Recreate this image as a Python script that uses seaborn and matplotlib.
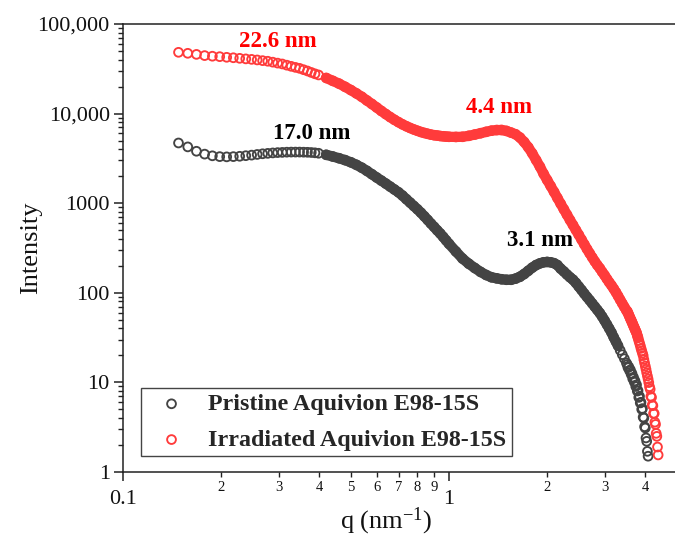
import matplotlib
matplotlib.use("Agg")
import matplotlib.pyplot as plt
import numpy as np
import pandas as pd
import seaborn as sns
from matplotlib.ticker import FixedLocator, FixedFormatter, NullFormatter, LogLocator

# ---------------- data ----------------
q_low = [0.148, 0.158, 0.168, 0.178, 0.188, 0.198, 0.208, 0.218, 0.228, 0.238,
         0.248, 0.258, 0.268, 0.278, 0.288, 0.298, 0.308, 0.318, 0.328, 0.338,
         0.348, 0.358, 0.368, 0.378, 0.388, 0.398]
q_mid = [0.42, 0.44, 0.46, 0.48, 0.50, 0.52, 0.54, 0.56, 0.58, 0.60,
         0.62, 0.64, 0.66, 0.68, 0.70, 0.72, 0.74, 0.76, 0.78, 0.80,
         0.82, 0.84, 0.86, 0.88, 0.90, 0.92, 0.94, 0.96, 0.98, 1.00]
q_high = [1.05, 1.10, 1.15, 1.20, 1.25, 1.30, 1.35, 1.40, 1.45, 1.50,
          1.55, 1.60, 1.65, 1.70, 1.75, 1.80, 1.85, 1.90, 1.95, 2.00,
          2.05, 2.10, 2.15, 2.20, 2.25, 2.30, 2.35, 2.40, 2.45, 2.50,
          2.55, 2.60, 2.65, 2.70, 2.75, 2.80, 2.85, 2.90, 2.95, 3.00,
          3.05, 3.10, 3.15, 3.20, 3.25, 3.30, 3.35, 3.40, 3.45, 3.50]
q_tail_pristine = [3.52, 3.54, 3.56, 3.58, 3.60, 3.62, 3.64, 3.66, 3.68, 3.70,
                   3.72, 3.74, 3.76, 3.78, 3.80, 3.82, 3.84, 3.86, 3.88, 3.90,
                   3.92, 3.94, 3.96, 3.98, 4.00, 4.02, 4.04, 4.06, 4.08]
q_tail_irradiated = [3.52, 3.54, 3.56, 3.58, 3.60, 3.62, 3.64, 3.66, 3.68, 3.70,
                     3.72, 3.74, 3.76, 3.78, 3.80, 3.82, 3.84, 3.86, 3.88, 3.90,
                     3.92, 3.94, 3.96, 3.98, 4.00, 4.02, 4.04, 4.06, 4.08, 4.10,
                     4.12, 4.14, 4.16, 4.18, 4.20, 4.22, 4.24, 4.26, 4.28, 4.30,
                     4.32, 4.34, 4.36, 4.38]

i_pristine_low = [4700, 4250, 3800, 3530, 3380, 3310, 3290, 3310, 3340, 3390,
                  3440, 3500, 3560, 3600, 3640, 3670, 3690, 3710, 3720, 3720,
                  3720, 3710, 3700, 3680, 3650, 3610]
i_pristine_mid = [3469, 3320, 3175, 3025, 2860, 2680, 2490, 2295, 2105, 1935,
                  1787, 1655, 1532, 1422, 1323, 1216, 1108, 1015, 930, 855,
                  783, 714, 651, 593, 544, 498, 459, 420, 384, 352]
i_pristine_high = [289, 241, 211, 189, 171, 158, 149, 145, 141.6, 139.8,
                   139.8, 144, 151, 162, 176, 191, 204, 213, 219, 221,
                   219, 214, 204, 186, 173, 160, 149, 140, 129, 117.5,
                   107.4, 97.9, 89.8, 82.7, 76.0, 70.0, 64.5, 59.5, 54.2, 49.1,
                   44.3, 39.9, 36.0, 31.9, 28.6, 25.6, 22.8, 20.4, 18.4, 16.5]
i_pristine_tail = [15.8, 14.6, 14.9, 13.5, 13.8, 12.3, 12.6, 11.0, 11.4, 10.1,
                   10.4, 9.0, 9.4, 8.0, 8.1, 6.8, 7.0, 5.9, 6.0, 5.0,
                   5.1, 4.1, 4.0, 3.2, 3.1, 2.4, 2.2, 1.7, 1.5]

i_irradiated_low = [48300, 47100, 45800, 44400, 43700, 43200, 42500, 42000, 41400, 40800,
                    40300, 39700, 39000, 38400, 37500, 36600, 35800, 34700, 33700, 32800,
                    32000, 30900, 29900, 28800, 27800, 27000]
i_irradiated_mid = [25000, 23200, 21600, 19900, 18300, 16800, 15400, 14000, 12800, 11700,
                    10700, 9870, 9140, 8530, 8020, 7580, 7220, 6910, 6650, 6430,
                    6230, 6080, 5950, 5830, 5740, 5690, 5620, 5580, 5540, 5510]
i_irradiated_high = [5490, 5510, 5650, 5840, 6040, 6260, 6450, 6550, 6560, 6410,
                     6140, 5880, 5410, 4820, 4210, 3600, 3030, 2560, 2130, 1815,
                     1555, 1335, 1145, 987, 855, 744, 649, 571, 502, 444,
                     392, 347, 308, 276, 248, 224, 204, 188, 171, 157,
                     143, 131, 121, 111, 101.5, 92.1, 83.5, 76.0, 69.4, 63.5]
i_irradiated_tail = [62.3, 59.5, 56.7, 54.0, 51.5, 49.4, 47.1, 44.9, 42.8, 41.0,
                     39.1, 37.3, 35.8, 33.5, 31.5, 29.3, 27.5, 25.8, 24.0, 22.5,
                     21.2, 19.9, 18.0, 16.5, 15.2, 14.0, 12.8, 11.8, 10.9, 9.95,
                     8.96, 8.4, 7.0, 6.8, 5.6, 5.5, 4.5, 4.5, 3.6, 3.4,
                     2.7, 2.5, 1.9, 1.55]

series_labels = ["Pristine Aquivion E98-15S", "Irradiated Aquivion E98-15S"]
peak_labels = ["22.6 nm", "17.0 nm", "4.4 nm", "3.1 nm"]

y_major = [1, 10, 100, 1000, 10000, 100000]
y_major_labels = ["1", "10", "100", "1000", "10,000", "100,000"]
x_major = [0.1, 1]
x_major_labels = ["0.1", "1"]
x_minor = [0.2, 0.3, 0.4, 0.5, 0.6, 0.7, 0.8, 0.9, 2, 3, 4, 5]
x_minor_labels = ["2", "3", "4", "5", "6", "7", "8", "9", "2", "3", "4", ""]

q_pristine = q_low + q_mid + q_high + q_tail_pristine
i_pristine = i_pristine_low + i_pristine_mid + i_pristine_high + i_pristine_tail
q_irradiated = q_low + q_mid + q_high + q_tail_irradiated
i_irradiated = i_irradiated_low + i_irradiated_mid + i_irradiated_high + i_irradiated_tail
assert len(q_pristine) == len(i_pristine)
assert len(q_irradiated) == len(i_irradiated)

# ---------------- style ----------------
sns.set_style("ticks")
plt.rcParams["font.family"] = ["Liberation Serif", "DejaVu Serif"]
plt.rcParams["mathtext.fontset"] = "custom"
plt.rcParams["mathtext.rm"] = "Liberation Serif"
plt.rcParams["mathtext.it"] = "Liberation Serif:italic"
plt.rcParams["mathtext.bf"] = "Liberation Serif:bold"

C_PRISTINE = "#444444"
C_IRRAD = "#ff3b3b"
RING_S = 40          # marker area (pt^2)
RING_LW = 1.35
BAND_LW = 7.4

fig = plt.figure(figsize=(6.75, 5.43), dpi=100)
ax = fig.add_axes([123 / 675, 71 / 543, 579.7 / 675, 448 / 543])
ax.set_xscale("log")
ax.set_yscale("log")

df_p = pd.DataFrame({"q": q_pristine, "I": i_pristine})
df_i = pd.DataFrame({"q": q_irradiated, "I": i_irradiated})

handles = []
for df, col, band_end in [(df_p, C_PRISTINE, 3.3), (df_i, C_IRRAD, 3.8)]:
    band = df[(df.q >= 0.40) & (df.q <= band_end)]
    sns.lineplot(data=band, x="q", y="I", color=col, lw=BAND_LW, sort=False,
                 estimator=None, ax=ax, solid_capstyle="round",
                 solid_joinstyle="round", zorder=2)
    sns.scatterplot(data=df, x="q", y="I", marker="o", s=RING_S, color=col,
                    facecolor="none", edgecolor=col, linewidth=RING_LW,
                    ax=ax, zorder=3)
    handles.append(ax.collections[-1])

ax.set_xlim(0.1, 6.0)
ax.set_ylim(1, 1e5)

# ticks
ax.yaxis.set_major_locator(FixedLocator(y_major))
ax.yaxis.set_major_formatter(FixedFormatter(y_major_labels))
ax.yaxis.set_minor_locator(LogLocator(base=10, subs=np.arange(2, 10), numticks=20))
ax.yaxis.set_minor_formatter(NullFormatter())
ax.xaxis.set_major_locator(FixedLocator(x_major))
ax.xaxis.set_major_formatter(FixedFormatter(x_major_labels))
ax.xaxis.set_minor_locator(FixedLocator(x_minor))
ax.xaxis.set_minor_formatter(FixedFormatter(x_minor_labels))

ax.tick_params(which="major", direction="out", length=6.5, width=1.1,
               labelsize=16, pad=3, color="#222222", labelcolor="#111111")
ax.tick_params(which="minor", direction="out", length=3.3, width=1.0,
               color="#222222")
ax.tick_params(axis="x", which="major", pad=6.5)
ax.tick_params(axis="x", which="minor", labelsize=10.5, pad=3.5, labelcolor="#111111")
ax.tick_params(top=False, right=False, which="both")

for side in ["left", "bottom", "top"]:
    ax.spines[side].set_linewidth(1.1)
    ax.spines[side].set_color("#222222")
ax.spines["right"].set_visible(False)

ax.set_ylabel("Intensity", fontsize=19, color="#111111")
ax.yaxis.set_label_coords(-0.14, 0.5)
ax.set_xlabel("q (nm$^{-1}$)", fontsize=19, color="#111111")
ax.xaxis.set_label_coords(0.4537, -0.075)

# peak annotations
ann_pos = [(0.299, 64600), (0.3787, 6050), (1.419, 11700), (1.895, 388)]
ann_col = ["#ff0000", "#000000", "#ff0000", "#000000"]
for lab, (xq, yi), c in zip(peak_labels, ann_pos, ann_col):
    ax.text(xq, yi, lab, ha="center", va="center", color=c,
            fontsize=16.5, fontweight="bold", zorder=5)

leg = ax.legend(handles=handles, labels=series_labels, loc="upper left",
                bbox_to_anchor=(141 / 675, 1 - 388 / 543),
                bbox_transform=fig.transFigure, borderaxespad=0,
                frameon=True, fancybox=False, edgecolor="#444444",
                framealpha=1, borderpad=0.22, labelspacing=0.58,
                handlelength=2.1, handletextpad=0.48, scatterpoints=1,
                prop={"family": "Liberation Serif", "weight": "bold", "size": 17.3})
leg.get_frame().set_linewidth(1.0)

fig.savefig("out.png", dpi=100)
